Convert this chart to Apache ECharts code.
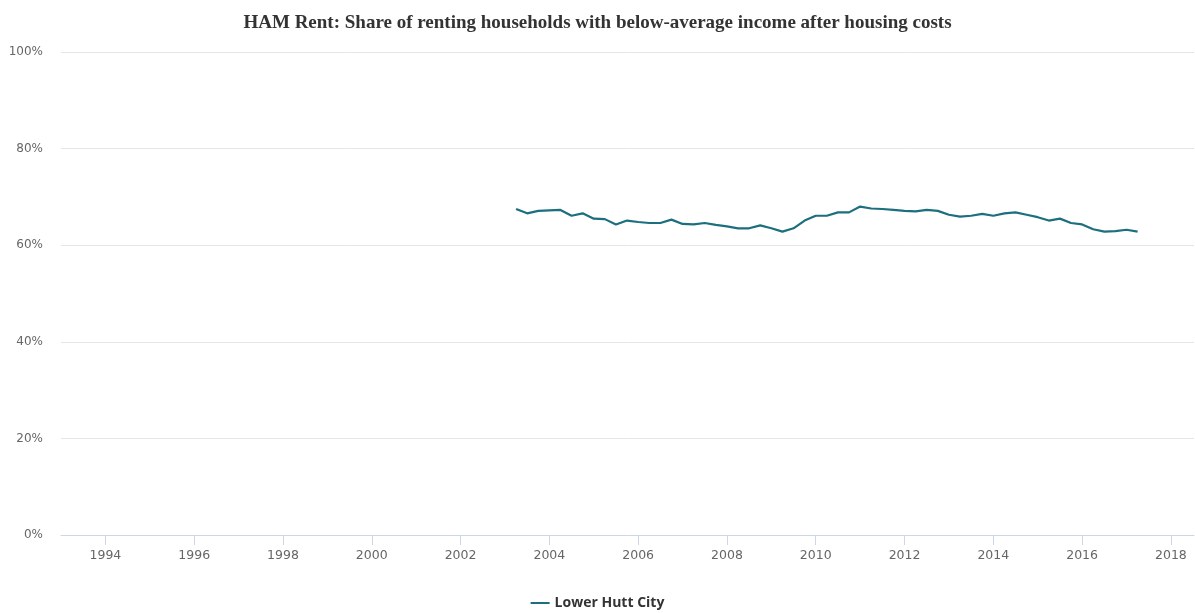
<!DOCTYPE html>
<html>
<head>
<meta charset="utf-8">
<script src="https://cdn.jsdelivr.net/npm/echarts@6/dist/echarts.min.js"></script>
<style>
	html, body { margin: 0; padding: 0; background: #fff; }
	#chart { width: 1195px; height: 613px; }
</style>
</head>
<body>
<div id="chart"></div>
<script>
// 季度数据：2003年第二季度起，至2017年第二季度
var series_name = "Lower Hutt City";
var start_year = 2003.25;
var share_values = [
	67.5, 66.6, 67.1, 67.2, 67.3, 66.1, 66.6, 65.5, 65.4, 64.3,
	65.1, 64.8, 64.6, 64.6, 65.3, 64.4, 64.3, 64.6, 64.2, 63.9,
	63.5, 63.5, 64.1, 63.5, 62.8, 63.5, 65.1, 66.1, 66.1, 66.8,
	66.8, 68.0, 67.6, 67.5, 67.3, 67.1, 67.0, 67.3, 67.1, 66.3,
	65.9, 66.1, 66.5, 66.1, 66.6, 66.8, 66.3, 65.8, 65.1, 65.5,
	64.6, 64.3, 63.3, 62.8, 62.9, 63.2, 62.8
];
var year_ticks = [1994, 1996, 1998, 2000, 2002, 2004, 2006, 2008, 2010, 2012, 2014, 2016, 2018];
var pct_ticks = [0, 20, 40, 60, 80, 100];

var line_data = [];
for (var i = 0; i < share_values.length; i++) {
	line_data.push([start_year + i * 0.25, share_values[i]]);
}

var chart = echarts.init(document.getElementById("chart"));
var option = {
	animation: false,
	title: {
		text: "HAM Rent: Share of renting households with below-average income after housing costs",
		left: "center",
		top: 9,
		textStyle: {
			fontFamily: "Liberation Serif",
			fontWeight: "bold",
			fontSize: 19,
			color: "#333333"
		}
	},
	legend: {
		bottom: -2,
		left: "center",
		itemWidth: 19,
		itemHeight: 2,
		icon: "rect",
		textStyle: {
			fontFamily: "Open Sans",
			fontWeight: "bold",
			fontSize: 14,
			color: "#333333"
		},
		data: [series_name]
	},
	grid: {
		left: 61,
		right: 1,
		top: 52,
		bottom: 78
	},
	xAxis: {
		type: "value",
		min: 1993,
		max: 2018.52,
		splitLine: { show: false },
		axisLine: { lineStyle: { color: "#ccd6eb" } },
		axisTick: {
			show: true,
			length: 10,
			customValues: year_ticks,
			lineStyle: { color: "#ccd6eb" }
		},
		axisLabel: {
			customValues: year_ticks,
			margin: 14,
			fontFamily: "DejaVu Sans",
			fontSize: 12.5,
			color: "#666666",
			formatter: function (v) { return String(v); }
		}
	},
	yAxis: {
		type: "value",
		min: 0,
		max: 100,
		interval: 20,
		axisLine: { show: false },
		axisTick: { show: false },
		splitLine: { lineStyle: { color: "#e6e6e6" } },
		axisLabel: {
			margin: 18,
			fontFamily: "DejaVu Sans",
			fontSize: 12,
			color: "#666666",
			formatter: function (v) { return v + "%"; }
		}
	},
	series: [{
		name: series_name,
		type: "line",
		data: line_data,
		showSymbol: false,
		symbol: "none",
		color: "#1b6f7e",
		lineStyle: { width: 2.2, color: "#1b6f7e" }
	}]
};
chart.setOption(option);
</script>
</body>
</html>
